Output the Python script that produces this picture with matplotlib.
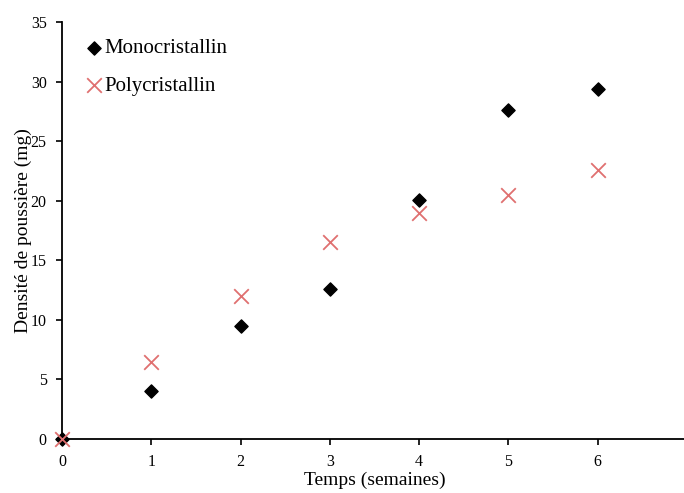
import numpy as np
import matplotlib
matplotlib.use("Agg")
import matplotlib.pyplot as plt

plt.rcParams['font.family'] = ['Liberation Serif', 'DejaVu Serif']

semaines = [0, 1, 2, 3, 4, 5, 6]
mono = [0, 4.0, 9.5, 12.6, 20.1, 27.6, 29.4]
poly = [0, 6.5, 12.0, 16.5, 19.0, 20.5, 22.6]

fig = plt.figure(figsize=(6.84, 4.93), dpi=100)
ax = fig.add_axes([62/684, 54/493, 625/684, 417/493])

ax.scatter(semaines, mono, marker='D', s=45, color='black', label='Monocristallin',
           zorder=3, clip_on=False)
ax.scatter(semaines, poly, marker='x', s=110, color='#e07070', linewidths=1.3,
           label='Polycristallin', zorder=4, clip_on=False)

ax.set_xlim(0, 7)
ax.set_ylim(0, 35)
ax.set_xticks(range(0, 8))
ax.set_yticks(range(0, 36, 5))
ax.spines['top'].set_visible(False)
ax.spines['right'].set_visible(False)
ax.spines['left'].set_linewidth(1.3)
ax.spines['bottom'].set_linewidth(1.3)
ax.tick_params(direction='out', length=4, width=1.2, labelsize=11.5, pad=7)

ax.set_xlabel("Temps (semaines)", fontsize=14, labelpad=1)
ax.set_ylabel("Densité de poussière (mg)", fontsize=14, labelpad=-1)

ax.legend(loc='upper left', frameon=False, fontsize=15, handletextpad=0.0,
          handlelength=1.0, borderaxespad=0.2, labelspacing=0.85,
          bbox_to_anchor=(0.015, 0.99))

fig.savefig("out.png", dpi=100)
